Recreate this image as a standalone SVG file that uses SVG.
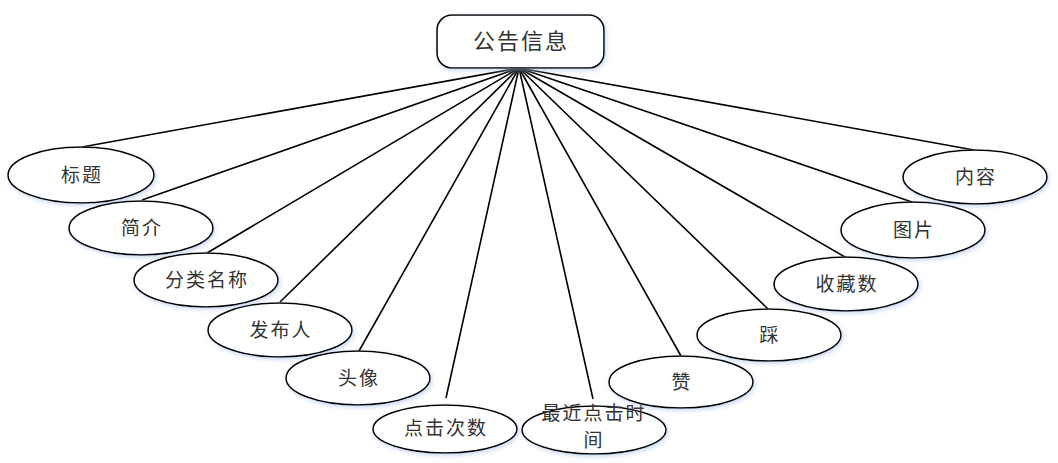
<svg xmlns="http://www.w3.org/2000/svg" width="1058" height="463" viewBox="0 0 1058 463">
<style>
.n ellipse,.n rect{fill:#fff;stroke:#000;stroke-width:1.6;filter:url(#sh)}
.n text{font-family:"Noto Sans CJK SC","Liberation Sans",sans-serif;font-size:19px;fill:#333;text-anchor:middle;letter-spacing:2px}
#edges line{stroke:#000;stroke-width:1.6}
</style>
<defs>
<filter id="sh" x="-20%" y="-30%" width="140%" height="160%">
<feDropShadow dx="1.5" dy="2" stdDeviation="2" flood-color="#a9c3e8" flood-opacity="0.6"/>
</filter>
</defs>
<rect width="1058" height="463" fill="#fff"/>
<g id="edges">
<line x1="519" y1="68" x2="82" y2="147"/>
<line x1="519" y1="68" x2="142" y2="200"/>
<line x1="519" y1="68" x2="207" y2="253"/>
<line x1="519" y1="68" x2="280" y2="302"/>
<line x1="519" y1="68" x2="359" y2="351"/>
<line x1="519" y1="68" x2="446" y2="398"/>
<line x1="519" y1="68" x2="593" y2="399"/>
<line x1="519" y1="68" x2="681" y2="356"/>
<line x1="519" y1="68" x2="768" y2="309"/>
<line x1="519" y1="68" x2="845" y2="257"/>
<line x1="519" y1="68" x2="912" y2="202"/>
<line x1="519" y1="68" x2="974" y2="150"/>
</g>
<g id="n0" class="n"><rect x="437" y="15" width="167" height="53" rx="15"/><text x="521" y="49" style="font-size:22px">公告信息</text></g>
<g id="n1" class="n"><ellipse cx="81" cy="175" rx="73" ry="28"/><text x="82" y="182">标题</text></g>
<g id="n2" class="n"><ellipse cx="141" cy="228" rx="72" ry="27"/><text x="142" y="235">简介</text></g>
<g id="n3" class="n"><ellipse cx="206" cy="280" rx="72" ry="27"/><text x="207" y="287">分类名称</text></g>
<g id="n4" class="n"><ellipse cx="280" cy="330" rx="72" ry="27"/><text x="281" y="337">发布人</text></g>
<g id="n5" class="n"><ellipse cx="358" cy="378" rx="72" ry="27"/><text x="359" y="385">头像</text></g>
<g id="n6" class="n"><ellipse cx="445" cy="429" rx="72" ry="24"/><text x="446" y="435">点击次数</text></g>
<g id="n7" class="n"><ellipse cx="594" cy="430" rx="72" ry="24"/><text x="594" y="420">最近点击时</text><text x="594" y="447">间</text></g>
<g id="n8" class="n"><ellipse cx="681" cy="382" rx="72" ry="26"/><text x="682" y="389">赞</text></g>
<g id="n9" class="n"><ellipse cx="769" cy="335" rx="72" ry="26"/><text x="770" y="342">踩</text></g>
<g id="n10" class="n"><ellipse cx="846" cy="284" rx="72" ry="27"/><text x="847" y="291">收藏数</text></g>
<g id="n11" class="n"><ellipse cx="913" cy="230" rx="72" ry="28"/><text x="914" y="237">图片</text></g>
<g id="n12" class="n"><ellipse cx="975" cy="177" rx="72" ry="27"/><text x="976" y="184">内容</text></g>
</svg>
